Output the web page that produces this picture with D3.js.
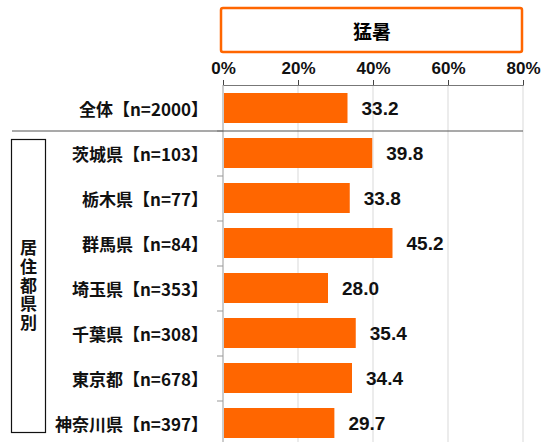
<!DOCTYPE html>
<html>
<head>
<meta charset="utf-8">
<script src="https://cdn.jsdelivr.net/npm/d3@7"></script>
<style>
  body { margin: 0; background: #fff; }
  svg { display: block; }
</style>
</head>
<body>
<div id="chart"></div>
<script>
// data
const categories = ["全体【n=2000】", "茨城県【n=103】", "栃木県【n=77】", "群馬県【n=84】",
                    "埼玉県【n=353】", "千葉県【n=308】", "東京都【n=678】", "神奈川県【n=397】"];
const values = [33.2, 39.8, 33.8, 45.2, 28.0, 35.4, 34.4, 29.7];
const xTicks = [0, 20, 40, 60, 80];
const seriesTitle = "猛暑";
const groupLabel = "居住都県別";

const W = 552, H = 442;
const jp = "'Noto Sans CJK JP', 'Noto Sans', sans-serif";
const num = "'Liberation Sans', Arial, sans-serif";

const svg = d3.select("#chart").append("svg")
    .attr("width", W)
    .attr("height", H);

const x = d3.scaleLinear().domain([0, 80]).range([223, 523]);
const y = d3.scaleBand().domain(categories).range([85.5, 445.5]).paddingInner(1 / 3).paddingOuter(1 / 6);

// title box
svg.append("rect")
   .attr("x", 221).attr("y", 8)
   .attr("width", 301).attr("height", 44)
   .attr("rx", 2)
   .attr("fill", "#fff")
   .attr("stroke", "#ff6600")
   .attr("stroke-width", 2.5);

svg.append("text")
   .attr("x", 372).attr("y", 30)
   .attr("text-anchor", "middle")
   .attr("dominant-baseline", "central")
   .style("font-family", jp)
   .style("font-size", "19px")
   .style("font-weight", "bold")
   .text(seriesTitle);

// gridlines
svg.append("g")
   .selectAll("line")
   .data(xTicks.slice(1))
   .enter()
   .append("line")
   .attr("x1", d => x(d)).attr("x2", d => x(d))
   .attr("y1", 85).attr("y2", H)
   .attr("stroke", "#d9d9d9")
   .attr("stroke-width", 1);

// top axis
const xAxis = svg.append("g")
   .attr("transform", "translate(0,85)")
   .call(d3.axisTop(x).tickValues(xTicks).tickSize(5).tickPadding(6).tickFormat(d => d + "%"));
xAxis.select(".domain").attr("stroke", "#777");
xAxis.selectAll(".tick line").attr("stroke", "#444");
xAxis.selectAll("text")
   .style("font-family", num)
   .style("font-size", "17px")
   .style("font-weight", "bold")
   .attr("fill", "#111");

// left axis line + ticks at band boundaries
const step = y.step();
svg.append("line")
   .attr("x1", x(0)).attr("x2", x(0))
   .attr("y1", 85).attr("y2", H)
   .attr("stroke", "#999");

svg.append("g")
   .selectAll("line")
   .data(categories.slice(1))
   .enter()
   .append("line")
   .attr("x1", x(0) - 6).attr("x2", x(0))
   .attr("y1", d => y(d) - step * (1 / 3) / 2 + 0.5)
   .attr("y2", d => y(d) - step * (1 / 3) / 2 + 0.5)
   .attr("stroke", "#999");

// bars
svg.selectAll(".bar")
   .data(values)
   .enter()
   .append("rect")
   .attr("class", "bar")
   .attr("x", x(0) + 1)
   .attr("y", (d, i) => y(categories[i]))
   .attr("width", d => x(d) - x(0) - 1)
   .attr("height", y.bandwidth())
   .attr("fill", "#ff6600");

// value labels
svg.selectAll(".val")
   .data(values)
   .enter()
   .append("text")
   .attr("class", "val")
   .attr("x", d => x(d) + 14)
   .attr("y", (d, i) => y(categories[i]) + y.bandwidth() / 2)
   .attr("dominant-baseline", "central")
   .style("font-family", num)
   .style("font-size", "19px")
   .style("font-weight", "bold")
   .attr("fill", "#111")
   .text(d => d.toFixed(1));

// category labels
svg.selectAll(".cat")
   .data(categories)
   .enter()
   .append("text")
   .attr("class", "cat")
   .attr("x", 208)
   .attr("y", d => y(d) + y.bandwidth() / 2)
   .attr("text-anchor", "end")
   .attr("dominant-baseline", "central")
   .style("font-family", jp)
   .style("font-size", "17px")
   .style("font-weight", "bold")
   .attr("fill", "#111")
   .text(d => d);

// separator under 全体
svg.append("line")
   .attr("x1", 12).attr("x2", x(80))
   .attr("y1", 131).attr("y2", 131)
   .attr("stroke", "#555")
   .attr("stroke-width", 1.2);

// group box
svg.append("rect")
   .attr("x", 11.5).attr("y", 139.5)
   .attr("width", 34).attr("height", 293)
   .attr("fill", "none")
   .attr("stroke", "#111")
   .attr("stroke-width", 1.2);

svg.append("text")
   .attr("x", 28.5)
   .attr("y", 286)
   .attr("text-anchor", "middle")
   .style("writing-mode", "vertical-rl")
   .style("text-orientation", "upright")
   .style("letter-spacing", "1.6px")
   .style("font-family", jp)
   .style("font-size", "17px")
   .style("font-weight", "bold")
   .attr("fill", "#111")
   .text(groupLabel);
</script>
</body>
</html>
